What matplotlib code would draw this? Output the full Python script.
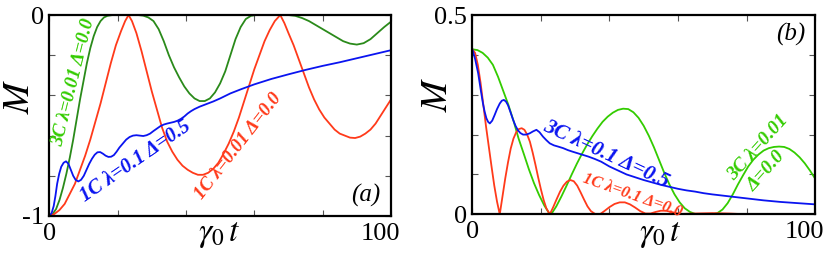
import numpy as np
import matplotlib
matplotlib.use('Agg')
import matplotlib.pyplot as plt
import matplotlib.transforms as mtransforms

plt.rcParams['font.family'] = ['Liberation Serif', 'DejaVu Serif']
plt.rcParams['mathtext.fontset'] = 'stix'

# ---- panel (a) ----
a_green_t = [0, 1, 2, 3, 4, 5, 6, 7, 8, 9, 10, 11, 12, 13, 14, 15, 16, 17, 18.5, 26, 27.5, 29, 30.5,
             32, 33.5, 35, 36.5, 38, 39.5, 41, 42.5, 44, 45.5, 47, 48.5, 50, 51.5, 53, 54.5, 56, 57.5,
             59, 60.5, 70, 72, 74, 76, 78, 80, 82, 84, 86, 88, 90, 92, 94, 96, 98, 100]
a_green_m = [-1, -0.99, -0.965, -0.92, -0.86, -0.79, -0.71, -0.62, -0.52, -0.42, -0.33, -0.24, -0.165, -0.105,
             -0.06, -0.03, -0.012, -0.004, 0, 0, -0.003, -0.012, -0.03,
             -0.07, -0.13, -0.2, -0.26, -0.31, -0.355, -0.39, -0.415, -0.428, -0.428, -0.415, -0.385, -0.34, -0.28,
             -0.2, -0.12, -0.06, -0.02, -0.004, 0, 0, -0.004, -0.015, -0.03, -0.05, -0.07, -0.09, -0.11, -0.13,
             -0.142, -0.147, -0.14, -0.12, -0.09, -0.06, -0.033]

a_red_t = [0, 1.5, 3, 4.5, 6, 7.5, 9, 10.5, 12, 13.5, 15, 16.5, 18, 19.5, 21, 22.2, 23.2, 24.2, 25.5,
           27, 28.5, 30, 31.5, 33, 34.5, 36, 37.5, 39, 40.5, 42, 43.5, 45, 46.5, 48, 49.5, 51, 52.5,
           54, 55.5, 57, 58.5, 60, 61.5, 63, 64.5, 66, 67.6, 68.8, 70, 71.5, 73, 74.5, 76, 77.5, 79,
           80.5, 82, 83.5, 85, 86.5, 88, 89.5, 91, 92.5, 94, 95.5, 97, 98.5, 100]
a_red_m = [-1, -0.99, -0.97, -0.94, -0.89, -0.84, -0.77, -0.70, -0.62, -0.53, -0.44, -0.34, -0.24, -0.15,
           -0.08, -0.03, 0, -0.03, -0.09, -0.18, -0.28, -0.38, -0.47, -0.56, -0.63, -0.68, -0.72, -0.75,
           -0.77, -0.785, -0.795, -0.795, -0.785, -0.765, -0.735, -0.69, -0.64, -0.58, -0.51, -0.43, -0.35,
           -0.27, -0.2, -0.13, -0.075, -0.03, 0, -0.04, -0.09, -0.15, -0.22, -0.29, -0.36, -0.42, -0.47,
           -0.51, -0.54, -0.57, -0.59, -0.6, -0.61, -0.612, -0.605, -0.59, -0.57, -0.54, -0.5, -0.46, -0.42]

a_blue_t = [0, 0.7, 1.3, 1.8, 2.3, 2.9, 3.5, 4.2, 4.9, 5.6, 6.3, 7.0, 7.7, 8.5, 9.3, 10.1, 10.9, 11.7,
            12.5, 13.3, 14.1, 14.9, 15.7, 16.5, 17.3, 18.1, 18.9, 19.7, 20.5, 21.5, 22.5, 23.5, 24.5,
            25.5, 26.5, 27.5, 28.5, 29.5, 30.5, 31.5, 32.5, 33.5, 34.5, 35.5, 36.5, 37.5, 38.5, 39.5,
            40.5, 41.5, 42.5, 44, 46, 48, 50, 53, 56, 60, 65, 70, 75, 80, 85, 90, 95, 100]
a_blue_m = [-1, -0.985, -0.95, -0.9, -0.84, -0.79, -0.755, -0.735, -0.728, -0.74, -0.77, -0.80, -0.82,
            -0.828, -0.82, -0.8, -0.77, -0.74, -0.715, -0.695, -0.683, -0.682, -0.69, -0.7, -0.706, -0.705,
            -0.697, -0.68, -0.66, -0.64, -0.62, -0.607, -0.6, -0.598, -0.6, -0.602, -0.598, -0.59, -0.577,
            -0.565, -0.553, -0.545, -0.54, -0.536, -0.532, -0.526, -0.517, -0.505, -0.49, -0.478, -0.468,
            -0.456, -0.443, -0.43, -0.415, -0.39, -0.37, -0.345, -0.318, -0.295, -0.273, -0.253, -0.235,
            -0.215, -0.195, -0.175]

# ---- panel (b) ----
b_green_t = [0, 1.5, 3, 4.5, 6, 7.5, 9, 10.5, 12, 13.5, 15, 16.5, 18, 19.5, 21, 22.4, 23.3, 24.5, 26,
             27.5, 29, 30.5, 32, 33.5, 35, 36.5, 38, 39.5, 41, 42.5, 44, 45.5, 47, 48.5, 50, 51.5, 53,
             54.5, 56, 57.5, 59, 60.5, 62, 63.5, 65, 70, 71.5, 73, 74.5, 76, 77.5, 79, 80.5, 82, 83.5,
             85, 86.5, 88, 89.5, 91, 92.5, 94, 95.5, 97, 98.5, 100]
b_green_m = [0.414, 0.412, 0.405, 0.393, 0.375, 0.345, 0.31, 0.275, 0.235, 0.19, 0.152, 0.113, 0.078,
             0.048, 0.022, 0.003, 0.004, 0.02, 0.045, 0.072, 0.1, 0.127, 0.152, 0.175, 0.196, 0.215, 0.232,
             0.245, 0.255, 0.262, 0.265, 0.264, 0.256, 0.242, 0.222, 0.197, 0.168, 0.136, 0.104, 0.075,
             0.05, 0.03, 0.015, 0.006, 0.001, 0.0, 0.003, 0.012, 0.028, 0.05, 0.075, 0.098, 0.12, 0.137,
             0.15, 0.16, 0.166, 0.169, 0.17, 0.169, 0.164, 0.155, 0.143, 0.128, 0.11, 0.09]

b_red_t = [0, 0.8, 1.6, 2.4, 3.2, 4, 4.8, 5.6, 6.4, 7.2, 8.0, 8.8, 9.6, 10.4, 11.2, 12, 12.8, 13.6, 14.4,
           15.2, 16, 16.8, 17.6, 18.4, 19.2, 20, 20.8, 21.6, 22.6, 23.6, 24.6, 25.6, 26.6, 27.6, 28.6,
           29.6, 30.6, 31.6, 32.6, 33.6, 34.6, 35.8, 37.2, 38.5, 40, 41.5, 43, 44.5, 46, 47.5, 49, 50.5,
           52, 53.5, 55, 56.5, 58, 59.5, 61, 65, 70, 75, 80, 100]
b_red_m = [0.414, 0.405, 0.375, 0.33, 0.275, 0.22, 0.17, 0.12, 0.072, 0.032, 0.0, 0.045, 0.09, 0.13,
           0.165, 0.19, 0.206, 0.214, 0.216, 0.212, 0.2, 0.182, 0.155, 0.125, 0.093, 0.063, 0.036, 0.015,
           0.0, 0.018, 0.038, 0.057, 0.072, 0.082, 0.086, 0.083, 0.072, 0.055, 0.037, 0.02, 0.008, 0.001,
           0.0, 0.008, 0.018, 0.026, 0.03, 0.03, 0.025, 0.017, 0.008, 0.002, 0.002, 0.006, 0.009, 0.009,
           0.006, 0.003, 0.001, 0.002, 0.003, 0.002, 0.0, 0.0]

b_blue_t = [0, 0.8, 1.7, 2.4, 3.1, 3.6, 4.1, 4.6, 5.1, 5.8, 6.5, 7.2, 8, 8.6, 9.2, 9.8, 10.4, 11.1, 11.9,
            12.6, 13.3, 14, 14.8, 15.7, 16.7, 17.7, 18.7, 19.6, 20.6, 21.6, 22.6, 23.8, 25, 26.5, 27.9,
            29.3, 30.8, 32.3, 33.8, 35.7, 37.6, 40, 42.5, 45, 47.5, 50, 52.5, 55, 57.5, 60, 62.5, 65,
            67.5, 70, 75, 80, 85, 90, 95, 100]
b_blue_m = [0.414, 0.39, 0.354, 0.315, 0.278, 0.257, 0.241, 0.232, 0.228, 0.235, 0.249, 0.264, 0.278,
            0.285, 0.287, 0.283, 0.274, 0.257, 0.237, 0.222, 0.211, 0.204, 0.2, 0.2, 0.203, 0.208, 0.212,
            0.206, 0.195, 0.186, 0.178, 0.173, 0.17, 0.166, 0.161, 0.157, 0.153, 0.149, 0.145, 0.139,
            0.132, 0.12, 0.11, 0.1, 0.093, 0.086, 0.08, 0.074, 0.069, 0.064, 0.06, 0.057, 0.053, 0.05,
            0.045, 0.04, 0.035, 0.031, 0.028, 0.025]

DKGREEN = '#2a8a1a'
GREEN = '#33cc00'
RED = '#ff3a1a'
BLUE = '#0a14f0'

fig = plt.figure(figsize=(8.31, 2.62), dpi=100)
ax = fig.add_axes([0.0593, 0.1756, 0.4112, 0.767])
bx = fig.add_axes([0.5684, 0.182, 0.4124, 0.7607])

ax.plot(a_green_t, a_green_m, color=DKGREEN, lw=1.3)
ax.plot(a_red_t, a_red_m, color=RED, lw=1.3)
ax.plot(a_blue_t, a_blue_m, color=BLUE, lw=1.3)

bx.plot(b_green_t, b_green_m, color=GREEN, lw=1.3)
bx.plot(b_red_t, b_red_m, color=RED, lw=1.3)
bx.plot(b_blue_t, b_blue_m, color=BLUE, lw=1.3)

ax.set_xlim(0, 100)
ax.set_ylim(-1, 0)
bx.set_xlim(0, 100)
bx.set_ylim(0, 0.5)

ax.set_yticks([-1, -0.8, -0.6, -0.4, -0.2, 0])
ax.set_yticklabels(['-1', '', '', '', '', '0'])
bx.set_yticks([0, 0.1, 0.2, 0.3, 0.4, 0.5])
bx.set_yticklabels(['0', '', '', '', '', '0.5'])

xt = [0, 20, 40, 60, 80, 100]
xl = ['0', '', '', '', '', '100']
shift = mtransforms.ScaledTranslation(-11 / 100, 0, fig.dpi_scale_trans)
for a in (ax, bx):
    a.set_xticks(xt)
    a.set_xticklabels(xl)
    a.tick_params(direction='in', top=True, right=True, length=4, width=0.8,
                  labelsize=19, color='#555555')
    a.tick_params(axis='x', pad=5)
    a.tick_params(axis='y', pad=4)
    for s in a.spines.values():
        s.set_linewidth(1.6)
    last = a.get_xticklabels()[-1]
    last.set_transform(last.get_transform() + shift)

ax.text(-0.086, 0.597, '$M$', transform=ax.transAxes, rotation=90,
        ha='center', va='center', fontsize=27)
bx.text(-0.1, 0.6, '$M$', transform=bx.transAxes, rotation=90,
        ha='center', va='center', fontsize=27)
ax.text(0.497, -0.095, r'$\gamma_{\mathit{0}}\, t$', transform=ax.transAxes,
        ha='center', va='center', fontsize=24)
bx.text(0.548, -0.104, r'$\gamma_{\mathit{0}}\, t$', transform=bx.transAxes,
        ha='center', va='center', fontsize=24)

ax.text(92.5, -0.9, '(a)', style='italic', fontsize=18, ha='center', va='center')
bx.text(93.0, 0.452, '(b)', style='italic', fontsize=18, ha='center', va='center')

lab = dict(style='italic', fontweight='bold', ha='center', va='center', rotation_mode='anchor')
ax.text(7.24, -0.336, '3C λ=0.01 Δ=0.0', color=GREEN, rotation=76, fontsize=13.8, **lab)
ax.text(25.4, -0.729, '1C λ=0.1 Δ=0.5', color=BLUE, rotation=34.5, fontsize=14.7, **lab)
ax.text(55.4, -0.654, '1C λ=0.01 Δ=0.0', color=RED, rotation=52, fontsize=13.6, **lab)

bx.text(39.0, 0.151, '3C λ=0.1 Δ=0.5', color=BLUE, rotation=-25, fontsize=15.5, **lab)
bx.text(46.7, 0.047, '1C λ=0.1 Δ=0.0', color=RED, rotation=-19.5, fontsize=11.8, **lab)
bx.text(83.4, 0.168, '3C λ=0.01', color=GREEN, rotation=48, fontsize=14, **lab)
bx.text(85.8, 0.107, 'Δ=0.0', color=GREEN, rotation=48, fontsize=14, **lab)

fig.savefig('out.png', dpi=100)
